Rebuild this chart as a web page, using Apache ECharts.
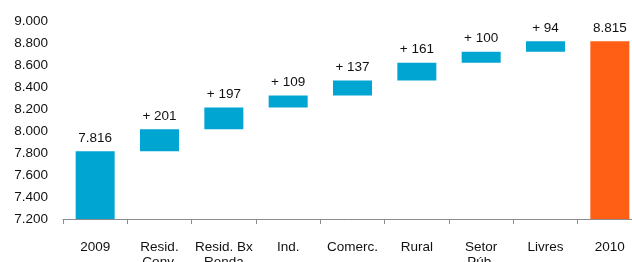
<!DOCTYPE html>
<html><head><meta charset="utf-8">
<script src="https://cdn.jsdelivr.net/npm/echarts@6/dist/echarts.min.js"></script>
<style>html,body{margin:0;padding:0;background:#fff}#c{width:632px;height:262px}</style>
</head><body><div id="c"></div>
<script>
var categories = ['2009', 'Resid.\nConv.', 'Resid. Bx\nRenda', 'Ind.', 'Comerc.', 'Rural', 'Setor\nPúb.', 'Livres', '2010'];
var startValue = 7816;
var deltas = [201, 197, 109, 137, 161, 100, 94];
var endValue = 8815;
var yTicks = { min: 7200, max: 9000, step: 200 };

function fmt(v) { return String(v).replace(/\B(?=(\d{3})+(?!\d))/g, '.'); }

var base = [0], vis = [{ value: startValue, itemStyle: { color: '#00A5D2' }, label: { formatter: fmt(startValue) } }];
var cum = startValue;
deltas.forEach(function (d) {
  base.push(cum);
  vis.push({ value: d, itemStyle: { color: '#00A5D2' }, label: { formatter: '+ ' + d } });
  cum += d;
});
base.push(0);
vis.push({ value: endValue, itemStyle: { color: '#FF5F14' }, label: { formatter: fmt(endValue) } });

var font = 'Liberation Sans, Arial, sans-serif';
var chart = echarts.init(document.getElementById('c'), null, { renderer: 'canvas' });
chart.setOption({
  animation: false,
  grid: { left: 63, top: 21, right: -10, bottom: 43, containLabel: false, outerBoundsMode: 'none' },
  xAxis: {
    type: 'category', data: categories,
    axisLine: { lineStyle: { color: '#8c8c8c', width: 1 } },
    axisTick: { show: true, length: 5, lineStyle: { color: '#8c8c8c' } },
    axisLabel: { color: '#111', fontFamily: font, fontSize: 13.5, margin: 21, lineHeight: 15, interval: 0 }
  },
  yAxis: {
    type: 'value', min: yTicks.min, max: yTicks.max, interval: yTicks.step,
    axisLine: { show: false }, axisTick: { show: false }, splitLine: { show: false },
    axisLabel: { color: '#111', fontFamily: font, fontSize: 13.5, margin: 15, formatter: function (v) { return fmt(v); } }
  },
  series: [
    { type: 'bar', stack: 'w', data: base, itemStyle: { color: 'transparent' }, barWidth: 39, silent: true },
    { type: 'bar', stack: 'w', data: vis, barWidth: 39,
      label: { show: true, position: 'top', distance: 6, color: '#111', fontFamily: font, fontSize: 13.5 } }
  ]
});
</script></body></html>
